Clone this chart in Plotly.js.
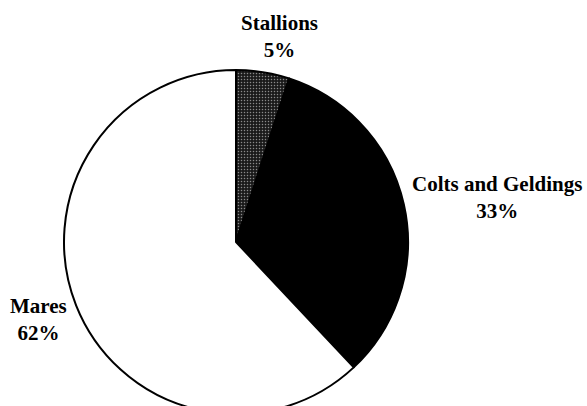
<!DOCTYPE html>
<html><head><meta charset="utf-8">
<script src="https://cdn.plot.ly/plotly-3.0.1.min.js"></script>
<style>html,body{margin:0;padding:0;overflow:hidden;background:#fff}</style>
</head><body><div id="chart"></div>
<script>
const labels = ["Stallions", "Colts and Geldings", "Mares"];
const values = [5, 33, 62];
const labelX = [0.4753, 0.8467, 0.0664];
const labelY = [0.912, 0.530, 0.239];

const W = 587, H = 420;
const trace = {
  type: "pie",
  labels: labels,
  values: values,
  sort: false,
  direction: "clockwise",
  rotation: 0,
  textinfo: "none",
  hoverinfo: "none",
  domain: {x: [64/W, 408/W], y: [6/H, 1 - 70/H]},
  marker: {
    colors: ["#333333", "#000000", "#ffffff"],
    line: {color: "#000000", width: 2},
    pattern: {shape: ["." , "", ""], bgcolor: ["#1a1a1a", "", ""], fgcolor: ["#8a8a8a", "", ""], size: 3, solidity: 0.2}
  }
};
const annotations = labels.map((l, i) => ({
  xref: "paper", yref: "paper", x: labelX[i], y: labelY[i],
  text: "<b>" + l + "<br>" + values[i] + "%</b>",
  showarrow: false, xanchor: "center", yanchor: "middle",
  font: {family: "Liberation Serif", size: 21, color: "#000"}
}));
Plotly.newPlot("chart", [trace], {
  width: W, height: H,
  margin: {l: 0, r: 0, t: 0, b: 0},
  showlegend: false,
  paper_bgcolor: "#fff",
  annotations: annotations
}, {displayModeBar: false, staticPlot: true});
</script></body></html>
